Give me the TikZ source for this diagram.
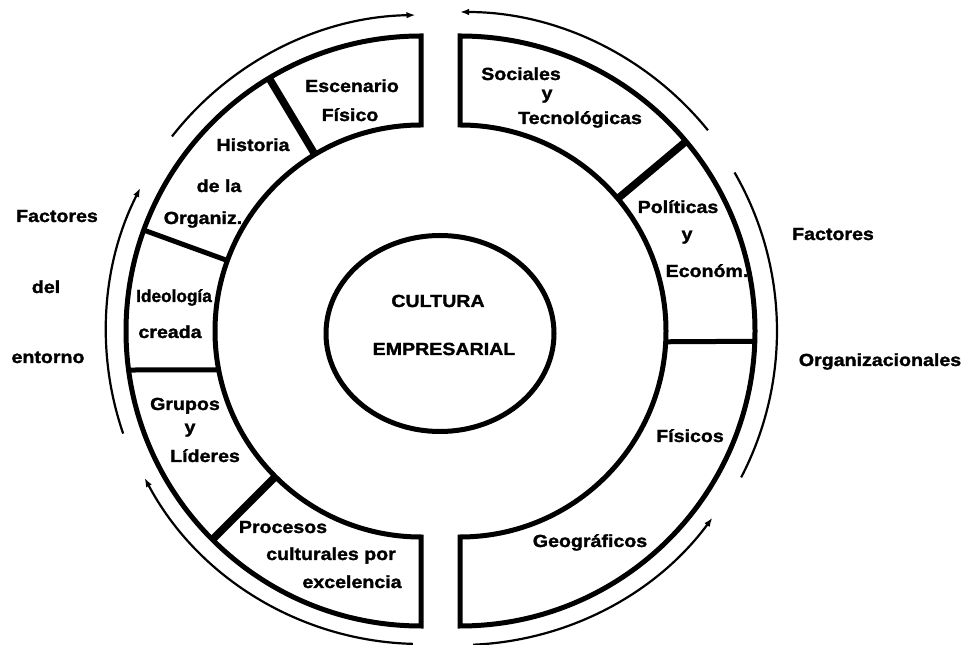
\documentclass[tikz,border=0pt]{standalone}
\usepackage{fontspec}
\setmainfont[FakeStretch=1.12, BoldFeatures={FakeBold=1.6}]{Liberation Sans}
\usetikzlibrary{arrows.meta}
\begin{document}
\begin{tikzpicture}[x=1pt,y=1pt,
  ring/.style={line width=5pt, line join=miter},
  thickdiv/.style={line width=7.5pt},
  thindiv/.style={line width=5pt},
  flow/.style={line width=2.2pt, -{Latex[length=9pt,width=6.5pt]}},
  plainflow/.style={line width=2.2pt},
  lbl/.style={font=\fontsize{17.5}{21}\selectfont\bfseries, anchor=base, inner sep=0pt}]
\useasboundingbox (0,0) rectangle (972,645);
% left half ring
\begin{scope}[shift={(421,314)}]
  \coordinate (L1) at (90:295);
  \coordinate (L2) at (270:206);
  \draw[ring] (L1) arc[start angle=90,end angle=270,radius=295] -- (L2)
        arc[start angle=270,end angle=90,radius=206] -- cycle;
  \draw[thickdiv] (121:206) -- (121:295);
  \draw[thindiv] (160:206) -- (160:295);
  \draw[thindiv] (190.9:206) -- (187.6:295);
  \draw[thickdiv] (225:206) -- (225:295);
  \draw[flow] (142:316) arc[start angle=142,end angle=91,radius=316];
  \draw[flow] (199:315) arc[start angle=199,end angle=153,radius=315];
  \draw[flow] (268.5:313) arc[start angle=268.5,end angle=208,radius=313];
\end{scope}
% right half ring
\begin{scope}[shift={(460,314)}]
  \coordinate (R1) at (-90:295);
  \coordinate (R2) at (90:206);
  \draw[ring] (R1) arc[start angle=-90,end angle=90,radius=295] -- (R2)
        arc[start angle=90,end angle=-90,radius=206] -- cycle;
  \draw[thickdiv] (40:206) -- (40:295);
  \draw[thindiv] (-3:206) -- (-2:295);
  \draw[flow] (39:319) arc[start angle=39,end angle=90,radius=319];
  \draw[plainflow] (30:317) arc[start angle=30,end angle=-27.5,radius=317];
  \draw[flow] (-87.6:314) arc[start angle=-87.6,end angle=-36.5,radius=314];
\end{scope}
% inner ellipse
\draw[ring] (440,311.5) ellipse[x radius=114, y radius=98];
\node[lbl] (c1) at (438,338) {CULTURA};
\node[lbl] (c2) at (444,290) {EMPRESARIAL};
% left sectors
\node[lbl] (e1) at (352,553) {Escenario};
\node[lbl] (e2) at (350,524) {Físico};
\node[lbl] (h1) at (253,494) {Historia};
\node[lbl] (h2) at (219,453) {de la};
\node[lbl] (h3) at (203,421) {Organiz.};
\node[lbl] (i1) at (174,343) {\scalebox{0.88}[1]{Ideología}};
\node[lbl] (i2) at (170,307) {creada};
\node[lbl] (g1) at (185,235) {Grupos};
\node[lbl] (g2) at (190,212) {y};
\node[lbl] (g3) at (205,183) {Líderes};
\node[lbl] (p1) at (283,112) {Procesos};
\node[lbl] (p2) at (331,85) {culturales por};
\node[lbl] (p3) at (352,57) {excelencia};
% right sectors
\node[lbl] (s1) at (521,565) {Sociales};
\node[lbl] (s2) at (547,546) {y};
\node[lbl] (s3) at (580,521) {Tecnológicas};
\node[lbl] (o1) at (678,432) {Políticas};
\node[lbl] (o2) at (687,405) {y};
\node[lbl] (o3) at (707,368) {Económ.};
\node[lbl] (f1) at (690,203) {Físicos};
\node[lbl] (f2) at (590,98) {Geográficos};
% outside labels
\node[lbl] (a1) at (57,423) {Factores};
\node[lbl] (a2) at (46,352) {del};
\node[lbl] (a3) at (48,282) {entorno};
\node[lbl] (b1) at (833,405) {Factores};
\node[lbl] (b2) at (880,279) {Organizacionales};
\end{tikzpicture}
\end{document}
